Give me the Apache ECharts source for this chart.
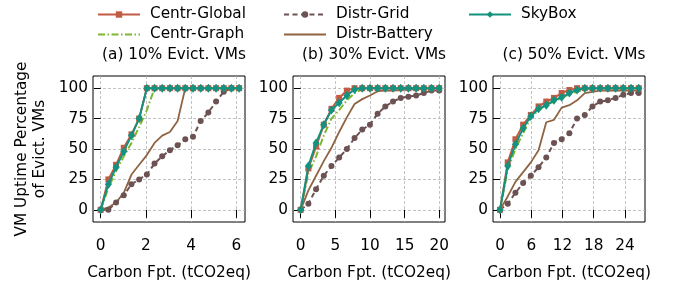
<!DOCTYPE html>
<html>
<head>
<meta charset="utf-8">
<script src="https://cdn.jsdelivr.net/npm/echarts@6/dist/echarts.min.js"></script>
<style>
  html, body { margin: 0; padding: 0; background: #fff; }
  #chart { width: 678px; height: 286px; }
</style>
</head>
<body>
<div id="chart"></div>
<script>
// x positions for each panel
var xA = [0, 0.34, 0.68, 1.02, 1.36, 1.7, 2.04, 2.38, 2.72, 3.06, 3.4, 3.74, 4.08, 4.42, 4.76, 5.1, 5.44, 5.78, 6.12];
var xB = [0, 1.11, 2.22, 3.33, 4.44, 5.55, 6.66, 7.77, 8.88, 9.99, 11.1, 12.21, 13.32, 14.43, 15.54, 16.65, 17.76, 18.87, 19.98];
var xC = [0, 1.48, 2.96, 4.44, 5.92, 7.4, 8.88, 10.36, 11.84, 13.32, 14.8, 16.28, 17.76, 19.24, 20.72, 22.2, 23.68, 25.16, 26.64];

// (a) 10% evicted
var globalA  = [0, 25, 37, 51, 62, 75, 100, 100, 100, 100, 100, 100, 100, 100, 100, 100, 100, 100, 100];
var graphA   = [0, 18, 32, 44, 55, 68, 82, 100, 100, 100, 100, 100, 100, 100, 100, 100, 100, 100, 100];
var gridA    = [0, 0, 6, 12, 21, 25, 29, 38, 44, 49, 53, 58, 60, 73, 80, 89, 97, 100, 100];
var batteryA = [0, 2, 6, 14, 29, 37, 45, 55, 61, 64, 73, 100, 100, 100, 100, 100, 100, 100, 100];
var skyboxA  = [0, 21, 35, 48, 61, 75, 100, 100, 100, 100, 100, 100, 100, 100, 100, 100, 100, 100, 100];

// (b) 30% evicted
var globalB  = [0, 34, 52, 70, 83, 92, 98, 100, 100, 100, 100, 100, 100, 100, 100, 100, 100, 100, 100];
var graphB   = [0, 30, 44, 61, 75, 82, 90, 96, 99, 100, 100, 100, 100, 100, 100, 100, 100, 100, 100];
var gridB    = [0, 5, 17, 28, 36, 43, 50, 59, 66, 70, 79, 85, 89, 92, 93, 94, 96, 98, 98];
var batteryB = [0, 16, 28, 40, 51, 64, 76, 87, 91, 94, 97.5, 98, 98, 98.5, 99, 99, 99.5, 100, 100];
var skyboxB  = [0, 36, 55, 70, 82, 88, 94, 99, 100, 100, 100, 100, 100, 100, 100, 100, 100, 100, 100];

// (c) 50% evicted
var globalC  = [0, 39, 58, 70, 78, 85, 89, 92, 96, 98.5, 100, 100, 100, 100, 100, 100, 100, 100, 100];
var graphC   = [0, 33, 50, 63, 76, 82, 86, 89, 92, 95, 97, 99, 100, 100, 100, 100, 100, 100, 100];
var gridC    = [0, 5, 14, 22, 28, 35, 43, 55, 58, 63, 75, 78, 85, 89, 90, 92, 94.5, 96, 96];
var batteryC = [0, 11, 23, 31, 39, 49, 72, 74, 84, 86, 90, 96, 97, 98, 98, 98, 98, 98, 98];
var skyboxC  = [0, 36, 54, 67, 77, 83, 86, 90, 92.5, 96, 98.5, 100, 100, 100, 100, 100, 100, 100, 100];

var panelTitles = ['(a) 10% Evict. VMs', '(b) 30% Evict. VMs', '(c) 50% Evict. VMs'];
var xTicks = [[0, 2, 4, 6], [0, 5, 10, 15, 20], [0, 6, 12, 18, 24]];
var yTicks = [0, 25, 50, 75, 100];
var xRanges = [[-0.34, 6.38], [-1.11, 20.82], [-1.35, 27.85]];

var FONT = 'DejaVu Sans';
var FS = 15.3;
var gridLefts = [93, 293, 493];

var styles = {
    'Centr-Global':  { color: '#c25a44', symbol: 'rect', size: 6, line: 'solid', width: 2, z: 4 },
    'Centr-Graph':   { color: '#7db72f', symbol: 'none', size: 0, line: [7, 2.5, 1.5, 2.5], width: 2, z: 3 },
    'Distr-Grid':    { color: '#6c5252', symbol: 'circle', size: 6, line: [5, 3.5], width: 2, z: 2 },
    'Distr-Battery': { color: '#8e6443', symbol: 'none', size: 0, line: 'solid', width: 1.8, z: 2 },
    'SkyBox':        { color: '#12927f', symbol: 'diamond', size: [7, 9], line: 'solid', width: 2, z: 5 }
};
var names = ['Centr-Global', 'Centr-Graph', 'Distr-Grid', 'Distr-Battery', 'SkyBox'];
var panels = [
    { x: xA, ys: [globalA, graphA, gridA, batteryA, skyboxA] },
    { x: xB, ys: [globalB, graphB, gridB, batteryB, skyboxB] },
    { x: xC, ys: [globalC, graphC, gridC, batteryC, skyboxC] }
];

function zip(xs, ys) {
    return xs.map(function (v, i) { return [v, ys[i]]; });
}

var grids = [], xAxes = [], yAxes = [], series = [], titles = [];
var splitStyle = { show: true, lineStyle: { color: '#b4b4b4', width: 0.8, type: [3, 2] } };

panels.forEach(function (p, k) {
    grids.push({ left: gridLefts[k], top: 76, width: 152, height: 146, show: true,
        borderColor: '#000', borderWidth: 1, backgroundColor: 'transparent' });
    xAxes.push({
        type: 'value', gridIndex: k, min: xRanges[k][0], max: xRanges[k][1],
        axisLine: { show: false },
        axisTick: { show: true, length: 8, customValues: xTicks[k], lineStyle: { color: '#000', width: 1 } },
        axisLabel: { customValues: xTicks[k], margin: 17, color: '#000', fontFamily: FONT, fontSize: FS },
        splitLine: splitStyle,
        name: 'Carbon Fpt. (tCO2eq)', nameLocation: 'middle', nameGap: 44,
        nameTextStyle: { color: '#000', fontFamily: FONT, fontSize: FS }
    });
    yAxes.push({
        type: 'value', gridIndex: k, min: -10, max: 110,
        axisLine: { show: false },
        axisTick: { show: true, length: 7, customValues: yTicks, lineStyle: { color: '#000', width: 1 } },
        axisLabel: { customValues: yTicks, margin: 5, color: '#000', fontFamily: FONT, fontSize: FS },
        splitLine: splitStyle
    });
    titles.push({ text: panelTitles[k], left: gridLefts[k] + 76, top: 43, textAlign: 'center',
        textStyle: { color: '#000', fontFamily: FONT, fontSize: FS, fontWeight: 'normal' } });
    names.forEach(function (n, j) {
        var s = styles[n];
        series.push({
            name: n, type: 'line', xAxisIndex: k, yAxisIndex: k,
            data: zip(p.x, p.ys[j]),
            symbol: s.symbol, symbolSize: s.size, showSymbol: s.symbol !== 'none',
            z: s.z, animation: false,
            itemStyle: { color: s.color },
            lineStyle: { color: s.color, width: s.width, type: s.line }
        });
    });
});

// legend laid out in 3 columns, 2 rows
var legendPos = {
    'Centr-Global':  [97, 7],
    'Centr-Graph':   [97, 27],
    'Distr-Grid':    [283, 7],
    'Distr-Battery': [283, 27],
    'SkyBox':        [468, 7]
};
var legends = names.map(function (n) {
    var noMarker = styles[n].symbol === 'none';
    return {
        data: [n], left: legendPos[n][0], top: legendPos[n][1], padding: 0,
        itemWidth: 42, itemHeight: 8, selectedMode: false,
        itemStyle: noMarker ? { color: 'rgba(0,0,0,0)', borderWidth: 0 } : {},
        textStyle: { color: '#000', fontFamily: FONT, fontSize: FS, padding: [0, 0, 0, 5] }
    };
});

var chart = echarts.init(document.getElementById('chart'));
chart.setOption({
    animation: false,
    title: titles,
    legend: legends,
    grid: grids,
    xAxis: xAxes,
    yAxis: yAxes,
    series: series,
    graphic: [{
        type: 'text', x: 31, y: 149, rotation: Math.PI / 2,
        style: { text: 'VM Uptime Percentage\nof Evict. VMs', fill: '#000', font: FS + 'px "DejaVu Sans"',
            align: 'center', verticalAlign: 'middle', lineHeight: 18 }
    }]
});
</script>
</body>
</html>
